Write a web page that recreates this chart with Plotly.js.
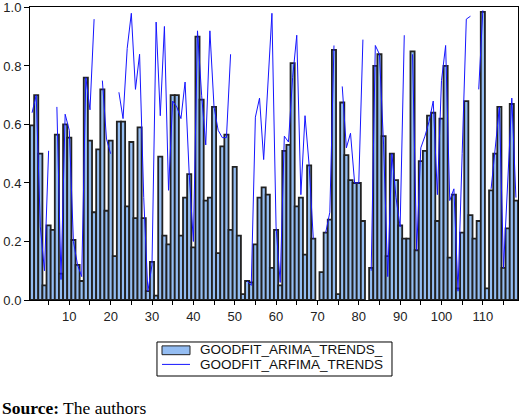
<!DOCTYPE html>
<html>
<head>
<meta charset="utf-8">
<script src="https://cdn.plot.ly/plotly-3.0.1.min.js"></script>
<style>html,body{margin:0;padding:0;background:#fff;}#chart{width:520px;height:417px;}</style>
</head>
<body>
<div id="chart"></div>
<script>
// Observation numbers 1..118
const obs = Array.from({length: 118}, (_, i) => i + 1);

// GOODFIT_ARIMA_TRENDS_ (bars)
const arimaTrends = [
  0.597, 0.70, 0.50, 0.05, 0.255, 0.24, 0.565, 0.09, 0.60, 0.555,
  0.205, 0.12, 0.065, 0.76, 0.545, 0.30, 0.515, 0.72, 0.305, 0.545,
  0.15, 0.61, 0.61, 0.32, 0.54, 0.28, 0.59, 0.28, 0.03, 0.13,
  0.015, 0.49, 0.22, 0.19, 0.70, 0.70, 0.22, 0.35, 0.43, 0.18,
  0.90, 0.685, 0.34, 0.35, 0.66, 0.16, 0.525, 0.565, 0.24, 0.455,
  0.22, 0.02, 0.065, 0.06, 0.19, 0.35, 0.385, 0.36, 0.11, 0.24,
  0.05, 0.51, 0.53, 0.81, 0.32, 0.35, 0.155, 0.46, 0.21, null,
  0.095, 0.23, 0.275, 0.855, 0.02, 0.675, 0.495, 0.41, 0.40, 0.40,
  0.27, null, 0.11, 0.80, 0.84, 0.56, 0.15, 0.50, 0.41, 0.255,
  0.21, 0.21, 0.85, 0.17, 0.475, 0.51, 0.63, 0.64, 0.27, 0.62,
  0.80, 0.145, 0.36, 0.04, 0.23, 0.68, 0.29, 0.21, 0.27, 0.985,
  0.04, 0.375, 0.50, 0.66, 0.11, 0.245, 0.67, 0.34
];

// GOODFIT_ARFIMA_TRENDS (line, null = missing)
const arfimaTrends = [
  0.64, 0.70, 0.25, 0.10, 0.51, null, 0.66, 0.07, 0.635, 0.58,
  0.20, 0.12, 0.08, 0.76, 0.65, 0.96, null, 0.75, 0.55, 0.50,
  null, 0.71, 0.62, 0.86, 0.98, 0.72, 0.84, 0.35, 0.03, 0.12,
  0.95, 0.63, 0.935, 0.375, 0.68, 0.66, 0.62, 0.745, 0.43, 0.20,
  0.92, 0.70, 0.53, 0.92, 0.66, 0.58, 0.555, 0.555, 0.84, null,
  null, null, 0.065, 0.05, 0.625, 0.69, 0.48, 0.74, 0.98, 0.25,
  0.06, 0.56, 0.54, 0.76, 0.905, 0.36, 0.63, 0.46, 0.21, null,
  null, 0.23, 0.30, 0.87, null, 0.73, 0.52, 0.57, 0.40, 0.40,
  0.89, null, 0.10, 0.87, 0.84, 0.53, 0.08, 0.50, 0.35, 0.25,
  0.905, null, 0.84, 0.17, 0.52, 0.56, 0.61, 0.68, 0.36, 0.75,
  0.87, 0.34, 0.38, 0.03, 0.50, 0.96, 0.97, null, 0.72, 0.99,
  null, 0.38, 0.52, 0.66, 0.11, 0.39, 0.69, 0.35
];

// Axis ticks
const xTickVals = [5,10,15,20,25,30,35,40,45,50,55,60,65,70,75,80,85,90,95,100,105,110,115];
const xTickText = ['','10','','20','','30','','40','','50','','60','','70','','80','','90','','100','','110',''];
const yTickVals = [0.0, 0.2, 0.4, 0.6, 0.8, 1.0];
const yTickText = ['0.0', '0.2', '0.4', '0.6', '0.8', '1.0'];

const seriesNames = ['GOODFIT_ARIMA_TRENDS_', 'GOODFIT_ARFIMA_TRENDS'];
const sourceText = '<b>Source:</b> The authors';

const barFill = '#94bdf2';
const barEdge = '#222222';
const lineColor = '#1515ff';

const traces = [
  {
    type: 'bar',
    x: obs,
    y: arimaTrends,
    name: seriesNames[0],
    marker: {color: barFill, line: {color: barEdge, width: 1.8}},
    showlegend: false
  },
  {
    type: 'scatter',
    mode: 'lines',
    x: obs,
    y: arfimaTrends,
    name: seriesNames[1],
    connectgaps: false,
    line: {color: lineColor, width: 1},
    showlegend: false
  }
];

const axisFont = {family: 'Liberation Sans, Arial, sans-serif', size: 13, color: '#222'};
const legendFont = {family: 'Liberation Sans, Arial, sans-serif', size: 13.5, color: '#111'};

// Legend box (paper coordinates)
const lg = {x0: 0.2602, x1: 0.7418, y0: -0.1433, y1: -0.2594,
            sx0: 0.2705, sx1: 0.3279, tx: 0.3443, r1: -0.1706, r2: -0.2218};

const layout = {
  width: 520,
  height: 417,
  margin: {l: 30, r: 2, t: 7, b: 117, pad: 0},
  paper_bgcolor: '#ffffff',
  plot_bgcolor: '#ffffff',
  bargap: 0,
  showlegend: false,
  xaxis: {
    range: [0.5, 118.5],
    tickmode: 'array',
    tickvals: xTickVals,
    ticktext: xTickText,
    ticks: 'outside',
    ticklen: 4,
    tickcolor: '#000',
    showgrid: false,
    zeroline: false,
    showline: true,
    linecolor: '#000',
    linewidth: 1,
    mirror: true,
    tickfont: axisFont
  },
  yaxis: {
    range: [0, 1.0015],
    tickmode: 'array',
    tickvals: yTickVals,
    ticktext: yTickText,
    ticks: 'outside',
    ticklen: 5,
    tickcolor: '#000',
    showgrid: false,
    zeroline: false,
    showline: true,
    linecolor: '#000',
    linewidth: 1,
    mirror: true,
    ticklabeloverflow: 'allow',
    tickfont: axisFont
  },
  shapes: [
    {type: 'rect', xref: 'paper', yref: 'paper', x0: lg.x0, x1: lg.x1, y0: lg.y0, y1: lg.y1,
     line: {color: '#000', width: 1}, fillcolor: '#ffffff'},
    {type: 'rect', xref: 'paper', yref: 'paper', x0: lg.sx0, x1: lg.sx1, y0: lg.r1 + 0.014, y1: lg.r1 - 0.016,
     line: {color: barEdge, width: 1}, fillcolor: barFill},
    {type: 'line', xref: 'paper', yref: 'paper', x0: lg.sx0, x1: lg.sx1, y0: lg.r2 + 0.002, y1: lg.r2 + 0.002,
     line: {color: lineColor, width: 1}}
  ],
  annotations: [
    {xref: 'paper', yref: 'paper', x: lg.tx, y: lg.r1, xanchor: 'left', yanchor: 'middle',
     text: seriesNames[0], showarrow: false, font: legendFont},
    {xref: 'paper', yref: 'paper', x: lg.tx, y: lg.r2, xanchor: 'left', yanchor: 'middle',
     text: seriesNames[1], showarrow: false, font: legendFont},
    {
      xref: 'paper', yref: 'paper',
      x: -0.0615, y: -0.37,
      xanchor: 'left', yanchor: 'middle',
      text: sourceText,
      showarrow: false,
      font: {family: 'Liberation Serif, Times New Roman, serif', size: 17.5, color: '#000'}
    }
  ]
};

Plotly.newPlot('chart', traces, layout, {displayModeBar: false, staticPlot: true});
</script>
</body>
</html>
